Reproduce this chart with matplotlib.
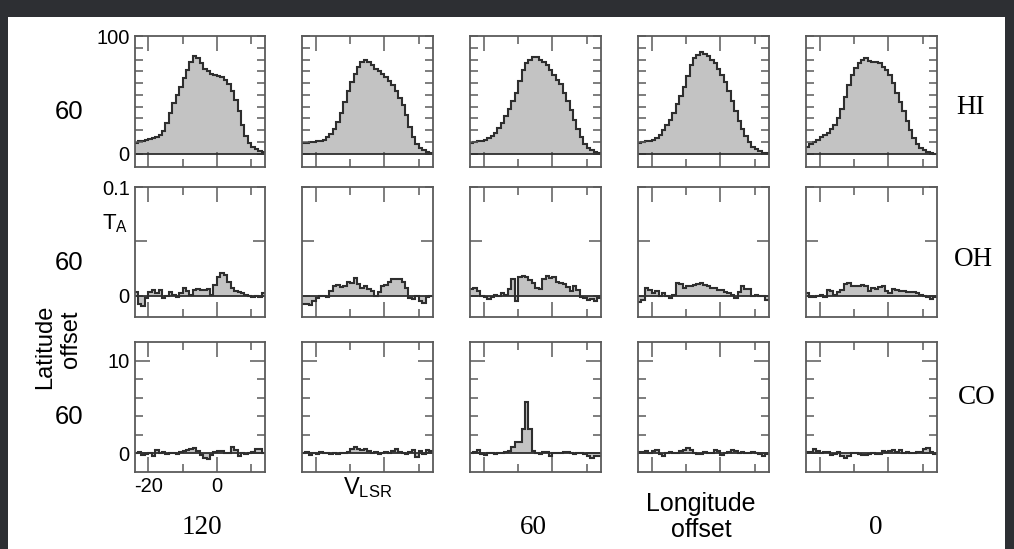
import matplotlib.pyplot as plt
import numpy as np
from matplotlib.patches import Rectangle

plt.rcParams['font.family'] = 'sans-serif'
plt.rcParams['font.sans-serif'] = ['Liberation Sans', 'DejaVu Sans']
plt.rcParams['axes.unicode_minus'] = False

# velocity channels (km/s), 1 km/s wide, -24 .. 14
v_edges = np.arange(-24, 15, 1.0)

# HI brightness (K), columns = longitude offsets 120 .. 0
hi_1 = [9, 10.5, 11, 12, 12.5, 13, 14, 16, 19, 26, 35, 43, 50, 57, 64, 71, 78, 83, 81,
        77, 72, 70, 68, 67, 66, 65, 63, 59, 53, 46, 36, 24, 15, 9, 6, 4, 2.5, 1.5]
hi_2 = [9, 9.5, 10, 10, 10.5, 11, 12, 14, 17, 21, 27, 35, 44, 53, 61, 68, 74, 78, 80,
        78, 75, 72, 70, 68, 65, 62, 58, 53, 47, 41, 33, 23, 14, 8, 5, 3, 1.5, 0.5]
hi_3 = [9.5, 10, 10.5, 11, 12, 13.5, 15, 18, 22, 26, 32, 38, 45, 52, 62, 71, 77, 80, 82,
        82, 80, 78, 75, 71, 67, 63, 59, 52, 45, 37, 29, 21, 14, 8, 5, 3, 1.5, 1]
hi_4 = [9.5, 10, 10.5, 11, 12, 13.5, 16, 20, 24, 29, 35, 42, 49, 57, 66, 75, 81, 84, 86,
        85, 83, 80, 77, 72, 67, 61, 53, 45, 36, 28, 21, 15, 10, 6, 4, 2.5, 1, 0.5]
hi_5 = [6, 8, 10, 12, 14, 16, 18, 21, 24, 30, 38, 48, 58, 67, 73, 77, 80, 81, 79,
        78, 78, 77, 74, 71, 67, 60, 52, 44, 36, 28, 20, 13, 8, 5, 3, 1.5, 0.5, 0]

# OH antenna temperature (K)
oh_1 = [0.003, -0.008, -0.01, -0.002, 0.003, 0.005, 0.002, 0.005, -0.002, 0.0,
        0.003, 0.001, -0.001, 0.002, 0.007, 0.004, 0.001, 0.005, 0.006, 0.005,
        0.005, 0.006, 0.001, 0.01, 0.017, 0.021, 0.019, 0.013, 0.007, 0.004,
        0.003, 0.002, 0.001, 0.0, -0.001, 0.0, -0.001, 0.002]
oh_2 = [-0.0075, -0.008, -0.009, -0.005, -0.002, 0.0, 0.0, -0.001, 0.004, 0.009,
        0.01, 0.008, 0.009, 0.013, 0.012, 0.016, 0.011, 0.007, 0.009, 0.006,
        0.004, 0.0, 0.003, 0.009, 0.01, 0.013, 0.015, 0.015, 0.015, 0.013,
        0.007, -0.002, -0.003, 0.0, -0.005, -0.007, -0.001, 0.0]
oh_3 = [0.006, 0.007, 0.004, 0.0, -0.001, -0.003, -0.001, 0.001, 0.0, 0.002,
        0.001, 0.006, 0.015, -0.005, 0.017, 0.018, 0.017, 0.014, 0.012, 0.007,
        0.006, 0.015, 0.018, 0.016, 0.017, 0.013, 0.012, 0.011, 0.008, 0.004,
        0.009, 0.005, -0.001, -0.002, -0.004, -0.003, -0.005, -0.002]
oh_4 = [-0.006, -0.004, 0.007, 0.005, 0.002, 0.004, 0.0, 0.002, 0.0, -0.002,
        0.001, 0.012, 0.011, 0.007, 0.009, 0.009, 0.01, 0.011, 0.012, 0.01,
        0.009, 0.007, 0.007, 0.005, 0.005, 0.003, 0.002, 0.001, -0.002, 0.003,
        0.009, 0.006, 0.006, 0.0, 0.001, 0.0, 0.0, -0.004]
oh_5 = [0.002, -0.001, -0.001, 0.0, 0.001, -0.001, 0.005, 0.004, 0.001, 0.003,
        0.005, 0.011, 0.012, 0.009, 0.009, 0.009, 0.01, 0.009, 0.004, 0.007,
        0.006, 0.008, 0.009, 0.004, 0.002, 0.006, 0.005, 0.004, 0.004, 0.003,
        0.003, 0.003, 0.002, 0.001, 0.0, -0.001, -0.003, -0.001]

# CO antenna temperature (K)
co_1 = [0.0, 0.1, -0.2, -0.1, 0.0, -0.3, 0.35, 0.0, 0.1, -0.1, 0.0, 0.05, -0.1,
        0.1, 0.2, 0.3, 0.5, 0.6, 0.2, -0.2, -0.5, -0.65, -0.2, 0.1, 0.2, 0.2,
        0.0, 0.0, 0.7, 0.3, -0.3, 0.0, -0.1, 0.0, 0.1, 0.5, 0.4, 0.0]
co_2 = [0.0, 0.1, -0.2, 0.0, -0.1, 0.1, 0.0, 0.0, -0.05, 0.0, -0.1, 0.0, 0.0,
        0.1, 0.4, 0.7, 0.5, 0.3, 0.45, 0.2, 0.0, 0.1, -0.1, 0.0, 0.1, 0.0,
        0.2, 0.4, 0.1, 0.0, -0.1, 0.1, 0.35, -0.4, 0.2, -0.1, 0.3, 0.2]
co_3 = [0.0, 0.1, 0.3, -0.1, -0.2, 0.0, 0.0, -0.1, 0.0, 0.0, 0.1, 0.2, 0.7,
        1.25, 1.2, 2.6, 5.5, 2.6, 0.2, 0.0, -0.1, 0.1, 0.1, -0.3, 0.0, 0.0,
        0.0, 0.1, 0.1, 0.0, -0.1, 0.0, 0.0, -0.1, -0.3, -0.55, -0.3, -0.35]
co_4 = [0.1, 0.1, 0.25, 0.0, 0.2, 0.35, -0.1, -0.35, 0.0, 0.15, 0.0, 0.05, 0.2,
        0.3, 0.55, 0.35, 0.0, -0.1, -0.1, 0.1, 0.0, 0.0, 0.35, 0.2, -0.2, 0.0,
        0.1, 0.35, 0.25, 0.0, 0.1, 0.0, 0.0, 0.15, 0.0, -0.1, -0.35, -0.1]
co_5 = [0.1, 0.1, 0.5, 0.25, 0.0, 0.15, 0.1, -0.2, -0.1, 0.1, -0.3, -0.55, -0.3,
        0.0, 0.0, -0.1, -0.2, -0.25, -0.1, 0.0, -0.1, -0.1, 0.2, 0.1, 0.2, 0.35,
        0.15, 0.35, 0.0, 0.1, 0.0, 0.0, 0.1, 0.1, 0.5, 0.55, 0.1, -0.1]

rows = [[hi_1, hi_2, hi_3, hi_4, hi_5],
        [oh_1, oh_2, oh_3, oh_4, oh_5],
        [co_1, co_2, co_3, co_4, co_5]]
row_names = ['HI', 'OH', 'CO']
lon_labels = ['120', '60', '0']
lat_label = '60'

W, H = 1014, 549
fig = plt.figure(figsize=(W / 100, H / 100), dpi=100)
fig.patch.set_facecolor('#2d2f33')
fig.add_artist(Rectangle((8 / W, 0), 997 / W, 532 / H, transform=fig.transFigure,
                         facecolor='white', edgecolor='none', zorder=-1))


def px(x, y):
    return x / W, 1 - y / H


col_left = [134.5, 302, 470, 638, 806]
col_w = 130.5
row_tb = [(36, 166.7), (187.3, 317.3), (342, 471.7)]
ylims = [(-11, 100), (-0.02, 0.1), (-2, 12)]
ymajor = [[0, 100], [0, 0.1], [0, 10]]
yminor = [list(range(10, 100, 10)), [0.05], [2, 4, 6, 8]]
ymajor_len = [5.5, 5.5, 11]
yminor_len = [5.5, 8.5, 5.5]
ylabels = [['0', '100'], ['0', '0.1'], ['0', '10']]

line_c = '#2e2e2e'
spine_c = '#5a5a5a'

for r in range(3):
    top, bot = row_tb[r]
    for c in range(5):
        ax = fig.add_axes([col_left[c] / W, 1 - bot / H, col_w / W, (bot - top) / H])
        vals = rows[r][c]
        ax.stairs(vals, v_edges, baseline=0, fill=True, color='#c3c3c3', lw=0)
        ax.stairs(vals, v_edges, baseline=None, color=line_c, lw=1.5)
        ax.axhline(0, color=line_c, lw=1.3)
        ax.set_xlim(-24, 14)
        ax.set_ylim(*ylims[r])
        for s in ax.spines.values():
            s.set_color(spine_c)
            s.set_linewidth(1.3)
        ax.set_xticks([-20, 0])
        ax.set_xticks([-10, 10], minor=True)
        ax.set_yticks(ymajor[r])
        ax.set_yticks(yminor[r], minor=True)
        ax.tick_params(which='both', direction='in', top=True, right=True,
                       color=spine_c, width=1.1, labelsize=14.5, pad=3.5)
        ax.tick_params(axis='x', which='major', length=11)
        ax.tick_params(axis='x', which='minor', length=5.5)
        ax.tick_params(axis='y', which='major', length=ymajor_len[r])
        ax.tick_params(axis='y', which='minor', length=yminor_len[r])
        if c == 0:
            ax.set_yticklabels(ylabels[r])
        else:
            ax.tick_params(labelleft=False)
        if c == 0 and r == 2:
            ax.set_xticklabels(['-20', '0'])
        else:
            ax.tick_params(labelbottom=False)

# latitude offset labels and species names
for y in [112, 262.7, 416.7]:
    fig.text(*px(69, y), lat_label, fontsize=18.5, ha='center', va='center')
for name, (x, y) in zip(row_names, [(971, 108), (973, 260), (977, 398)]):
    fig.text(*px(x, y), name, fontsize=19.5, family='Liberation Serif',
             ha='center', va='center')

# longitude offset labels
for lab, x in zip(lon_labels, [201.7, 533.3, 876]):
    fig.text(*px(x, 527), lab, fontsize=19.5, family='Liberation Serif',
             ha='center', va='center')

fig.text(*px(115, 224), r'$\mathregular{T_A}$', fontsize=16, ha='center', va='center')
fig.text(*px(368, 488), r'$\mathregular{V_{LSR}}$', fontsize=17, ha='center', va='center')
fig.text(*px(701, 517), 'Longitude\noffset', fontsize=18, ha='center', va='center',
         linespacing=1.15)
fig.text(*px(45, 347), 'Latitude', fontsize=17, rotation=90, ha='center', va='center')
fig.text(*px(71.5, 339), 'offset', fontsize=17, rotation=90, ha='center', va='center')

fig.savefig('out.png', dpi=100, facecolor=fig.get_facecolor())
